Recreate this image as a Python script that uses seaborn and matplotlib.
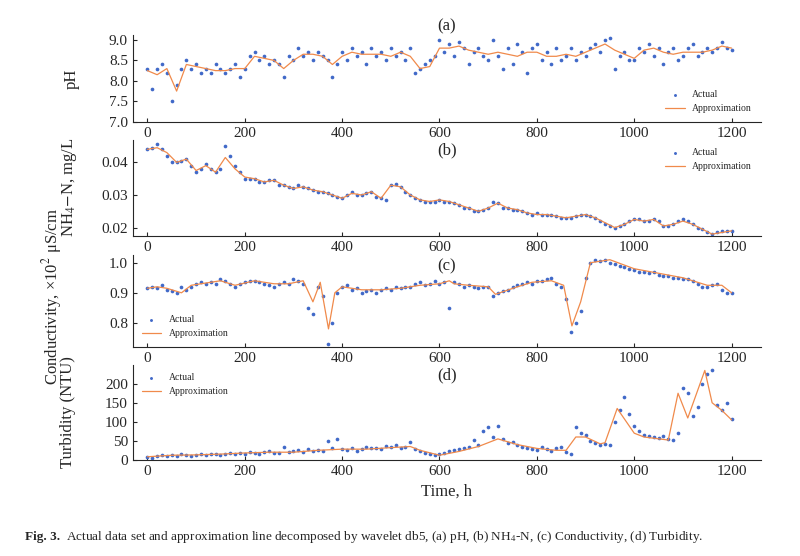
import matplotlib
matplotlib.use('Agg')
import numpy as np
import pandas as pd
import seaborn as sns
import matplotlib.pyplot as plt

t_act = list(range(0, 1201, 10))

ph_t = list(range(0, 1201, 20))
ph_approx = [8.25, 8.15, 8.3, 7.75, 8.4, 8.35, 8.3, 8.25, 8.25, 8.3, 8.3, 8.6, 8.55, 8.5, 8.3, 8.5,
             8.65, 8.65, 8.6, 8.4, 8.6, 8.7, 8.65, 8.65, 8.65, 8.6, 8.7, 8.6, 8.3, 8.35, 8.8, 8.8,
             8.85, 8.75, 8.7, 8.65, 8.7, 8.65, 8.6, 8.7, 8.7, 8.6, 8.6, 8.65, 8.6, 8.7, 8.8, 8.9,
             8.75, 8.65, 8.55, 8.75, 8.8, 8.7, 8.65, 8.7, 8.7, 8.7, 8.75, 8.85, 8.8]
ph_actual = [8.3, 7.8, 8.3, 8.4, 8.2, 7.5, 7.9, 8.3, 8.5, 8.3,
             8.4, 8.2, 8.3, 8.2, 8.4, 8.3, 8.2, 8.3, 8.4, 8.1,
             8.3, 8.6, 8.7, 8.5, 8.6, 8.4, 8.5, 8.4, 8.1, 8.6,
             8.5, 8.8, 8.6, 8.7, 8.5, 8.7, 8.6, 8.5, 8.1, 8.4,
             8.7, 8.5, 8.8, 8.6, 8.7, 8.4, 8.8, 8.6, 8.7, 8.5,
             8.8, 8.6, 8.7, 8.5, 8.8, 8.2, 8.3, 8.4, 8.5, 8.6,
             9.0, 8.7, 8.9, 8.6, 8.95, 8.8, 8.4, 8.7, 8.8, 8.6,
             8.5, 9.0, 8.6, 8.3, 8.8, 8.4, 8.9, 8.7, 8.2, 8.8,
             8.9, 8.5, 8.7, 8.4, 8.8, 8.5, 8.6, 8.8, 8.5, 8.7,
             8.6, 8.8, 8.9, 8.7, 9.0, 9.05, 8.3, 8.6, 8.7, 8.5,
             8.5, 8.8, 8.7, 8.9, 8.6, 8.8, 8.4, 8.7, 8.8, 8.5,
             8.6, 8.8, 8.9, 8.6, 8.7, 8.8, 8.7, 8.8, 8.95, 8.8,
             8.75]

nh_t = list(range(0, 1201, 20))
nh_approx = [.044, .0445, .043, .040, .041, .0375, .039, .037, .0415, .038, .0355, .035, .034,
             .0345, .033, .032, .0325, .0315, .031, .030, .029, .0305, .030, .031, .029, .033,
             .0325, .030, .0285, .028, .0285, .028, .027, .026, .025, .026, .0275, .026, .0255,
             .0245, .024, .024, .0235, .023, .0235, .024, .023, .0215, .020, .021, .0225, .022,
             .0225, .0205, .021, .022, .021, .0195, .018, .0185, .019]
nh_actual = [.044, .0445, .0455, .044, .042, .040, .040, .0405, .041, .039,
             .037, .038, .0395, .038, .037, .038, .045, .042, .039, .037,
             .035, .035, .035, .034, .034, .0345, .0345, .033, .033, .0325,
             .032, .033, .0325, .032, .0315, .031, .031, .0305, .030, .0295,
             .029, .030, .031, .030, .030, .0305, .031, .0295, .029, .0285,
             .033, .0335, .0325, .031, .030, .029, .0285, .028, .028, .028,
             .0285, .028, .028, .0275, .027, .026, .026, .025, .025, .0255,
             .026, .028, .0275, .026, .026, .0255, .0255, .025, .0245, .024,
             .0245, .024, .024, .024, .0235, .023, .023, .023, .0235, .024,
             .024, .0235, .023, .022, .021, .0205, .020, .0205, .021, .022,
             .0225, .0225, .022, .022, .0225, .022, .0205, .0205, .021, .022,
             .0225, .022, .021, .020, .0195, .0185, .018, .0185, .019, .019,
             .019]

co_t = [0, 20, 40, 70, 90, 110, 150, 180, 220, 260, 290, 320, 340, 355, 372, 385, 400, 440, 480,
        520, 560, 600, 620, 630, 660, 700, 715, 760, 790, 830, 855, 872, 890, 910, 950, 1000,
        1050, 1100, 1150, 1180, 1200]
co_approx = [.915, .92, .915, .90, .925, .93, .94, .925, .94, .93, .93, .94, .87, .935, .78, .90,
             .92, .91, .91, .915, .925, .93, .94, .93, .925, .92, .895, .92, .935, .94, .925, .79,
             .87, 1.0, 1.01, .98, .965, .95, .925, .925, .90]
co_actual = [.915, .92, .915, .925, .91, .905, .90, .92, .91, .92,
             .93, .935, .93, .935, .93, .945, .94, .93, .92, .93,
             .935, .94, .94, .935, .93, .925, .92, .93, .935, .93,
             .945, .94, .93, .85, .83, .92, .89, .73, .80, .90,
             .92, .925, .91, .915, .90, .905, .91, .90, .91, .915,
             .91, .92, .915, .92, .92, .93, .935, .925, .93, .94,
             .93, .935, .85, .935, .93, .92, .925, .92, .915, .92,
             .92, .89, .90, .905, .91, .92, .925, .93, .935, .93,
             .94, .94, .945, .95, .93, .92, .88, .77, .80, .84,
             .95, 1.0, 1.01, 1.005, 1.01, 1.0, .995, .99, .985, .98,
             .975, .97, .97, .965, .97, .96, .955, .955, .95, .95,
             .945, .945, .94, .93, .92, .92, .925, .93, .91, .90,
             .90]

tu_t = [0, 50, 100, 150, 200, 250, 300, 350, 400, 450, 500, 540, 560, 600, 640, 680, 720, 760,
        800, 840, 860, 880, 900, 930, 940, 965, 1000, 1020, 1070, 1090, 1110, 1145, 1160, 1180, 1200]
tu_approx = [8, 12, 13, 15, 18, 20, 20, 25, 28, 28, 32, 35, 25, 12, 22, 35, 55, 40, 30, 25, 25,
             60, 60, 42, 45, 135, 70, 60, 52, 175, 110, 235, 150, 130, 105]
tu_actual = [8, 6, 10, 12, 9, 13, 11, 14, 12, 10,
             13, 15, 12, 14, 16, 13, 15, 17, 14, 18,
             16, 20, 18, 15, 20, 22, 19, 18, 35, 20,
             22, 25, 20, 28, 24, 26, 22, 50, 30, 55,
             28, 25, 30, 24, 28, 35, 30, 32, 28, 36,
             33, 38, 30, 35, 48, 28, 22, 18, 15, 12,
             14, 18, 22, 25, 28, 30, 35, 52, 40, 75,
             85, 60, 88, 55, 45, 48, 40, 35, 30, 28,
             25, 35, 28, 22, 30, 35, 20, 15, 85, 70,
             65, 50, 45, 40, 42, 38, 100, 130, 165, 120,
             90, 75, 65, 62, 60, 58, 62, 55, 52, 70,
             190, 175, 115, 140, 200, 225, 235, 145, 130, 150,
             108]

sns.set_style("ticks")
plt.rcParams['font.family'] = ['Liberation Serif', 'DejaVu Serif']
plt.rcParams['mathtext.fontset'] = 'stix'

fig = plt.figure(figsize=(8, 5.56), dpi=100)
boxes = [[0.166, 0.781, 0.785, 0.156], [0.166, 0.576, 0.785, 0.173],
         [0.166, 0.376, 0.785, 0.165], [0.166, 0.173, 0.785, 0.171]]
panels = [
    (ph_t, ph_approx, ph_actual, "(a)", "pH", (7.0, 9.12), [7.0, 7.5, 8.0, 8.5, 9.0], "lower right", "%.1f", -0.085, 0.5),
    (nh_t, nh_approx, nh_actual, "(b)", "NH$_4$$-$N, mg/L", (0.0175, 0.047), [0.02, 0.03, 0.04], "upper right", "%.2f", -0.085, 0.5),
    (co_t, co_approx, co_actual, "(c)", "Conductivity, ×10$^2$ μS/cm", (0.72, 1.025), [0.8, 0.9, 1.0], "lower left", "%.1f", -0.11, 0.55),
    (tu_t, tu_approx, tu_actual, "(d)", "Turbidity (NTU)", (0, 250), [0, 50, 100, 150, 200], "upper left", "%d", -0.09, 0.5),
]
for box, (ta, ap, ac, title, ylab, ylim, yt, loc, fmt, lx, ly) in zip(boxes, panels):
    ax = fig.add_axes(box)
    df_act = pd.DataFrame({"t": t_act, "v": ac})
    df_app = pd.DataFrame({"t": ta, "v": ap})
    sns.scatterplot(data=df_act, x="t", y="v", ax=ax, s=7, color="#4169C8", linewidth=0, label="Actual")
    sns.lineplot(data=df_app, x="t", y="v", ax=ax, color="#F08A4B", linewidth=0.9, label="Approximation")
    ax.set_xlim(-30, 1260)
    ax.set_ylim(*ylim)
    ax.set_yticks(yt)
    ax.set_yticklabels([fmt % v for v in yt])
    ax.set_xticks(range(0, 1201, 200))
    ax.tick_params(direction='in', labelsize=11, length=3)
    ax.set_xlabel("")
    ax.set_ylabel(ylab, fontsize=12)
    ax.yaxis.set_label_coords(lx, ly)
    if title == "(a)":
        ax.set_title(title, fontsize=12, pad=3)
    else:
        ax.text(0.5, 0.97, title, transform=ax.transAxes, ha='center', va='top', fontsize=12)
    sns.despine(ax=ax)
    ax.legend(loc=loc, frameon=False, fontsize=7, markerscale=0.8, handlelength=2)
    if title == "(d)":
        ax.set_xlabel("Time, h", fontsize=12)

fig.text(0.031, 0.028, "Fig. 3.", fontsize=9.5, fontweight='bold')
fig.text(0.083, 0.028, "Actual data set and approximation line decomposed by wavelet db5, (a) pH, (b) NH$_4$-N, (c) Conductivity, (d) Turbidity.", fontsize=9.5)
fig.savefig("out.png", dpi=100)
